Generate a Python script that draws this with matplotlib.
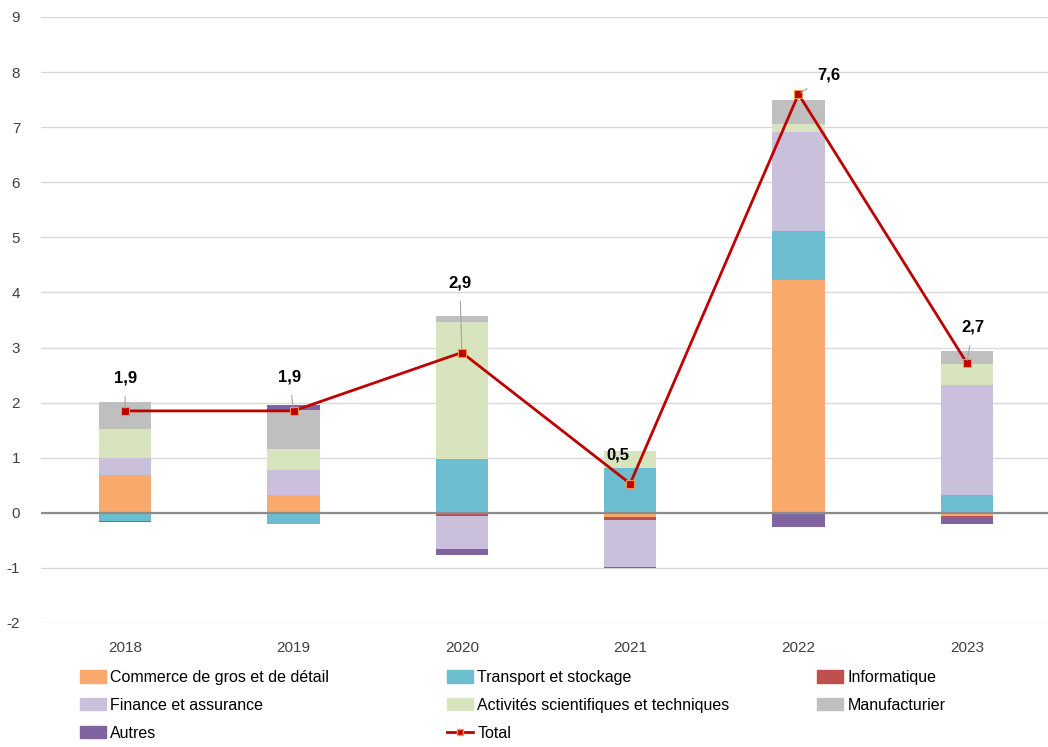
import matplotlib.pyplot as plt
import numpy as np
from matplotlib.patches import Patch
from matplotlib.lines import Line2D

plt.rcParams['font.family'] = ['Liberation Sans', 'DejaVu Sans']
plt.rcParams['axes.unicode_minus'] = False

# données (points de pourcentage)
years = ['2018', '2019', '2020', '2021', '2022', '2023']
commerce = [0.68, 0.33, 0.0, -0.07, 4.22, -0.05]
transport = [-0.14, -0.21, 0.97, 0.81, 0.89, 0.32]
informatique = [0.0, 0.0, -0.05, -0.06, 0.0, -0.04]
finance = [0.31, 0.45, -0.61, -0.85, 1.81, 2.00]
activites = [0.53, 0.38, 2.50, 0.32, 0.13, 0.38]
manufacturier = [0.50, 0.70, 0.11, 0.0, 0.45, 0.23]
autres = [-0.03, 0.10, -0.10, -0.02, -0.26, -0.12]
total = [1.85, 1.85, 2.91, 0.53, 7.60, 2.72]
total_labels = ['1,9', '1,9', '2,9', '0,5', '7,6', '2,7']

series = [
    ('Commerce de gros et de détail', commerce, '#F9A96B'),
    ('Transport et stockage', transport, '#6DBDD0'),
    ('Informatique', informatique, '#C0504D'),
    ('Finance et assurance', finance, '#CBC0DC'),
    ('Activités scientifiques et techniques', activites, '#D7E4BD'),
    ('Manufacturier', manufacturier, '#BFBFBF'),
    ('Autres', autres, '#8064A2'),
]

fig = plt.figure(figsize=(10.48, 7.47), dpi=100)
ax = fig.add_axes([41 / 1048, 1 - 623 / 747, 1010 / 1048, 606 / 747])

x = np.arange(len(years))
pos_base = np.zeros(len(years))
neg_base = np.zeros(len(years))
for name, vals, col in series:
    v = np.array(vals)
    base = np.where(v >= 0, pos_base, neg_base)
    ax.bar(x, v, 0.31, bottom=base, color=col, zorder=2)
    pos_base += np.where(v >= 0, v, 0)
    neg_base += np.where(v < 0, v, 0)

ax.axhline(0, color='#8C8C8C', lw=1.6, zorder=3)

ax.plot(x, total, color='#C00000', lw=2, marker='s', markersize=5.5,
        markerfacecolor='#C00000', markeredgecolor='#F79646', markeredgewidth=0.8, zorder=4)

# étiquettes du total
offsets = [(0, 33), (-4, 34), (-2, 70), (-12, 29), (30, 19), (6, 36)]
for xi, yi, lab, off in zip(x, total, total_labels, offsets):
    ax.annotate(lab, (xi, yi), xytext=off, textcoords='offset pixels',
                ha='center', va='center', fontsize=12, fontweight='bold',
                arrowprops=dict(arrowstyle='-', color='#A6A6A6', lw=0.8,
                                shrinkA=6, shrinkB=2), zorder=5)

ax.set_xlim(-0.5, len(years) - 0.5)
ax.set_ylim(-2, 9)
ax.set_yticks(range(-2, 10))
ax.set_xticks(x)
ax.set_xticklabels(years)
ax.grid(axis='y', color='#D9D9D9', lw=1, zorder=0)
ax.set_axisbelow(True)
for s in ax.spines.values():
    s.set_visible(False)
ax.tick_params(length=0, labelsize=11, colors='#404040')
ax.tick_params(axis='y', pad=15)
ax.tick_params(axis='x', pad=13)

# légende en trois colonnes
handles = [Patch(facecolor=c, edgecolor=c) for _, _, c in series]
names = [n for n, _, _ in series]
handles.append(Line2D([0], [0], color='#C00000', lw=2, marker='s', markersize=5,
                      markerfacecolor='#C00000', markeredgecolor='#F79646'))
names.append('Total')
cols = [[0, 3, 6], [1, 4, 7], [2, 5]]
col_x = [80, 447, 817]
for cx, idx in zip(col_x, cols):
    fig.legend([handles[i] for i in idx], [names[i] for i in idx],
               loc='upper left', bbox_to_anchor=(cx / 1048, 1 - 670 / 747),
               frameon=False, fontsize=11.5, labelspacing=0.8,
               handlelength=1.6, handleheight=0.8, handletextpad=0.3,
               borderaxespad=0, borderpad=0)

fig.savefig('out.png', dpi=100)
